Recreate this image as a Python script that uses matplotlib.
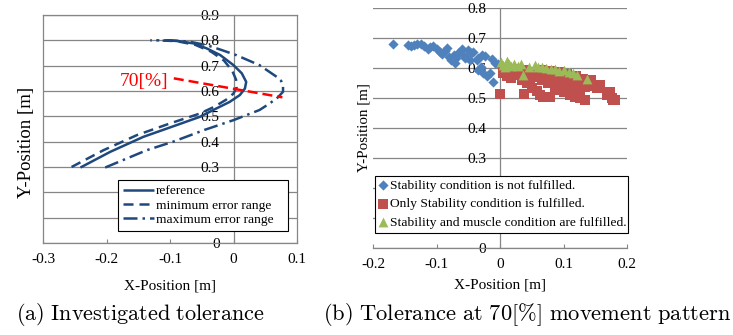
import matplotlib
matplotlib.use('Agg')
import matplotlib.pyplot as plt

plt.rcParams['font.family'] = ['Liberation Serif', 'DejaVu Serif']
plt.rcParams['mathtext.fontset'] = 'cm'

# ---------------- data: panel (a) ----------------
ref_x = [-0.241, -0.194, -0.142, -0.090, -0.053, -0.027, -0.006, 0.010, 0.018, 0.020,
         0.013, 0.000, -0.021, -0.042, -0.063, -0.087, -0.105]
ref_y = [0.298, 0.360, 0.419, 0.465, 0.498, 0.531, 0.557, 0.584, 0.610, 0.636,
         0.670, 0.702, 0.742, 0.768, 0.788, 0.797, 0.800]

min_x = [-0.255, -0.205, -0.152, -0.100, -0.053, -0.030, -0.012, 0.000, 0.005, 0.004,
         -0.002, -0.015, -0.035, -0.060, -0.090, -0.122]
min_y = [0.300, 0.366, 0.426, 0.472, 0.511, 0.538, 0.565, 0.590, 0.615, 0.645,
         0.680, 0.720, 0.755, 0.782, 0.797, 0.800]

max_x = [-0.202, -0.137, -0.095, -0.045, 0.000, 0.041, 0.057, 0.070, 0.078, 0.078,
         0.075, 0.068, 0.041, 0.004, -0.019, -0.042, -0.070, -0.100, -0.131]
max_y = [0.298, 0.366, 0.400, 0.447, 0.485, 0.525, 0.551, 0.575, 0.597, 0.620,
         0.640, 0.656, 0.702, 0.742, 0.762, 0.781, 0.795, 0.800, 0.800]

pct_x = [-0.094, 0.077]
pct_y = [0.650, 0.575]
pct_label = '70[%]'

a_xticks = [-0.3, -0.2, -0.1, 0.0, 0.1]
a_xticklabels = ['-0.3', '-0.2', '-0.1', '0', '0.1']
a_yticks = [0.0, 0.1, 0.2, 0.3, 0.4, 0.5, 0.6, 0.7, 0.8, 0.9]
# 0.1 and 0.2 are hidden behind the legend in the reference
a_yticklabels = ['0', '', '', '0.3', '0.4', '0.5', '0.6', '0.7', '0.8', '0.9']
a_legend = ['reference', 'minimum error range', 'maximum error range']

# ---------------- data: panel (b) ----------------
blue_x = [-0.168, -0.145, -0.140, -0.136, -0.130, -0.124, -0.119, -0.113, -0.110, -0.105,
          -0.100, -0.095, -0.092, -0.087, -0.084, -0.081, -0.077, -0.073, -0.071, -0.070,
          -0.066, -0.060, -0.058, -0.055, -0.052, -0.050, -0.047, -0.045, -0.042, -0.037,
          -0.034, -0.029, -0.024, -0.034, -0.030, -0.026, -0.021, -0.016, -0.011, -0.013,
          -0.008, -0.003]
blue_y = [0.680, 0.676, 0.674, 0.678, 0.679, 0.679, 0.672, 0.665, 0.670, 0.674,
          0.662, 0.655, 0.648, 0.658, 0.666, 0.638, 0.628, 0.645, 0.617, 0.635,
          0.650, 0.664, 0.645, 0.632, 0.638, 0.660, 0.627, 0.650, 0.654, 0.628,
          0.634, 0.645, 0.640, 0.592, 0.605, 0.584, 0.573, 0.582, 0.553, 0.630,
          0.618, 0.612]

red_x = [0.000, 0.038, 0.005, 0.011, 0.016, 0.018, 0.024, 0.029, 0.029, 0.034,
         0.037, 0.040, 0.042, 0.045, 0.047, 0.050, 0.050, 0.055, 0.058, 0.063,
         0.063, 0.066, 0.066, 0.068, 0.073, 0.073, 0.076, 0.076, 0.079, 0.080,
         0.084, 0.084, 0.087, 0.087, 0.092, 0.094, 0.094, 0.094, 0.097, 0.097,
         0.100, 0.100, 0.105, 0.105, 0.105, 0.110, 0.110, 0.115, 0.115, 0.118,
         0.120, 0.121, 0.123, 0.126, 0.126, 0.130, 0.134, 0.134, 0.136, 0.142,
         0.144, 0.144, 0.152, 0.157, 0.158, 0.168, 0.168, 0.173, 0.173, 0.176,
         0.178, 0.181]
red_y = [0.512, 0.512, 0.582, 0.575, 0.591, 0.566, 0.577, 0.597, 0.590, 0.560,
         0.565, 0.595, 0.549, 0.582, 0.555, 0.532, 0.588, 0.571, 0.525, 0.510,
         0.577, 0.593, 0.560, 0.505, 0.560, 0.504, 0.582, 0.549, 0.505, 0.590,
         0.566, 0.549, 0.571, 0.538, 0.543, 0.588, 0.572, 0.526, 0.560, 0.527,
         0.560, 0.520, 0.566, 0.532, 0.580, 0.516, 0.510, 0.560, 0.532, 0.504,
         0.572, 0.505, 0.549, 0.532, 0.499, 0.565, 0.538, 0.495, 0.555, 0.540,
         0.560, 0.543, 0.535, 0.538, 0.543, 0.521, 0.510, 0.521, 0.510, 0.499,
         0.493, 0.495]

green_x = [0.002, 0.005, 0.008, 0.011, 0.014, 0.018, 0.022, 0.028, 0.033, 0.037,
           0.045, 0.055, 0.060, 0.066, 0.073, 0.080, 0.087, 0.093, 0.100, 0.108,
           0.115, 0.121, 0.137]
green_y = [0.620, 0.610, 0.603, 0.622, 0.612, 0.606, 0.615, 0.608, 0.612, 0.578,
           0.603, 0.609, 0.602, 0.604, 0.600, 0.598, 0.597, 0.590, 0.592, 0.587,
           0.582, 0.578, 0.562]

b_xticks = [-0.2, -0.1, 0.0, 0.1, 0.2]
b_xticklabels = ['-0.2', '-0.1', '0', '0.1', '0.2']
b_yticks = [0.0, 0.1, 0.2, 0.3, 0.4, 0.5, 0.6, 0.7, 0.8]
# 0.1 and 0.2 are hidden behind the legend in the reference
b_yticklabels = ['0', '', '', '0.3', '0.4', '0.5', '0.6', '0.7', '0.8']
b_legend = ['Stability condition is not fulfilled.',
            'Only Stability condition is fulfilled.',
            'Stability and muscle condition are fulfilled.']

xlabel = 'X-Position [m]'
ylabel = 'Y-Position [m]'
cap_a = r'$\mathrm{(a)\ Investigated\ tolerance}$'
cap_b = r'$\mathrm{(b)\ Tolerance\ at\ 70[\%]\ movement\ pattern}$'

# ---------------- styles ----------------
W, H = 733, 335
GRAY = '#868686'
NAVY = '#1F497D'
C_BLUE, C_RED, C_GREEN = '#4F81BD', '#C0504D', '#9BBB59'

fig = plt.figure(figsize=(W / 100, H / 100), dpi=100)
ax1 = fig.add_axes([43 / W, 1 - 243 / H, 254 / W, 228 / H])
ax2 = fig.add_axes([373 / W, 1 - 248 / H, 254 / W, 240 / H])

# ---------------- panel (a) ----------------
ax1.set_xlim(-0.3, 0.1)
ax1.set_ylim(0, 0.9)
ax1.set_xticks(a_xticks)
ax1.set_xticklabels(a_xticklabels)
ax1.set_yticks(a_yticks)
ax1.set_yticklabels(a_yticklabels)
ax1.yaxis.grid(True, color=GRAY, lw=0.9)
ax1.set_axisbelow(True)
for s in ['top', 'right', 'bottom', 'left']:
    ax1.spines[s].set_color(GRAY)
    ax1.spines[s].set_linewidth(0.9)
ax1.spines['left'].set_position(('data', 0))
ax1.plot([0, 0], [0, 1], transform=ax1.transAxes, color=GRAY, lw=0.9, clip_on=False, zorder=1)
ax1.tick_params(axis='x', direction='in', length=3, color=GRAY, pad=7, labelsize=11)
ax1.tick_params(axis='y', length=0, pad=10, labelsize=11)

l1, = ax1.plot(ref_x, ref_y, color=NAVY, lw=1.8, solid_capstyle='butt', zorder=3)
l2, = ax1.plot(min_x, min_y, color=NAVY, lw=1.8, ls=(0, (4, 2.4)), zorder=3)
l3, = ax1.plot(max_x, max_y, color=NAVY, lw=1.8, ls=(0, (5.6, 2, 1, 2)), zorder=3)
ax1.plot(pct_x, pct_y, color='#FF0000', lw=1.8, ls=(0, (4, 2)), zorder=4)
ax1.text(-0.103, 0.638, pct_label, color='#FF0000', fontsize=14, ha='right', va='center', zorder=4)

leg1 = ax1.legend([l1, l2, l3], a_legend, loc='lower left',
                  bbox_to_anchor=(0.295, 0.053, 0.67, 0.228), mode='expand',
                  borderaxespad=0, fontsize=9.7, handlelength=2.3, handletextpad=0.15,
                  labelspacing=0.15, borderpad=0.35, fancybox=False, framealpha=1,
                  edgecolor='black')
leg1.get_frame().set_linewidth(0.8)

ax1.set_xlabel(xlabel, fontsize=11)
ax1.xaxis.set_label_coords(0.5, -0.158)
ax1.set_ylabel(ylabel, fontsize=13.5)
ax1.yaxis.set_label_coords(-0.03, 0.44)

# ---------------- panel (b) ----------------
ax2.set_xlim(-0.2, 0.2)
ax2.set_ylim(0, 0.8)
ax2.set_xticks(b_xticks)
ax2.set_xticklabels(b_xticklabels)
ax2.set_yticks(b_yticks)
ax2.set_yticklabels(b_yticklabels)
ax2.yaxis.grid(True, color=GRAY, lw=0.9)
ax2.set_axisbelow(True)
ax2.spines['top'].set_visible(False)
ax2.spines['right'].set_visible(False)
for s in ['bottom', 'left']:
    ax2.spines[s].set_color(GRAY)
    ax2.spines[s].set_linewidth(0.9)
ax2.spines['left'].set_position(('data', 0))
ax2.tick_params(axis='x', direction='in', length=3, color=GRAY, pad=7, labelsize=11)
ax2.tick_params(axis='y', length=0, pad=10, labelsize=11)

s1 = ax2.scatter(blue_x, blue_y, marker='D', s=27, color=C_BLUE, linewidths=0, zorder=3)
s2 = ax2.scatter(red_x, red_y, marker='s', s=46, color=C_RED, linewidths=0, zorder=3)
s3 = ax2.scatter(green_x, green_y, marker='^', s=50, color=C_GREEN, linewidths=0, zorder=4)

leg2 = ax2.legend([s1, s2, s3], b_legend, loc='lower left',
                  bbox_to_anchor=(0.008, 0.0625, 0.996, 0.2625), mode='expand',
                  borderaxespad=0, fontsize=9.7, handlelength=0.6, handletextpad=0.2,
                  labelspacing=0.45, borderpad=0.3, fancybox=False, framealpha=1,
                  edgecolor='black', scatterpoints=1)
leg2.get_frame().set_linewidth(0.8)

ax2.set_xlabel(xlabel, fontsize=11)
ax2.xaxis.set_label_coords(0.5, -0.129)
ax2.set_ylabel(ylabel, fontsize=10.8)
ax2.yaxis.set_label_coords(-0.008, 0.5)

# ---------------- captions ----------------
fig.text(140 / W, 1 - 314 / H, cap_a, fontsize=16, ha='center', va='center')
fig.text(527 / W, 1 - 314 / H, cap_b, fontsize=16.2, ha='center', va='center')

fig.savefig('out.png', dpi=100)
